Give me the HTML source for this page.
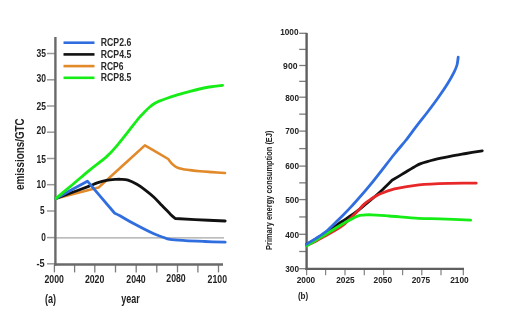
<!DOCTYPE html>
<html><head><meta charset="utf-8"><style>
html,body{margin:0;padding:0;background:#fff;width:512px;height:326px;overflow:hidden}
svg{display:block;font-family:"Liberation Sans", sans-serif;filter:blur(0.3px)}
</style></head><body>
<svg width="512" height="326" viewBox="0 0 512 326">
<rect width="512" height="326" fill="#fff"/>
<line x1="55" y1="237.9" x2="224" y2="237.9" stroke="#a6a6a6" stroke-width="1.4"/>
<line x1="47" y1="53.5" x2="55" y2="53.5" stroke="#9a9a9a" stroke-width="1.5"/>
<text x="46.1" y="57.3" font-size="11.6" font-weight="bold" fill="#222" textLength="9.5" lengthAdjust="spacingAndGlyphs" text-anchor="end" >35</text>
<line x1="47" y1="79.8" x2="55" y2="79.8" stroke="#9a9a9a" stroke-width="1.5"/>
<text x="46.1" y="81.6" font-size="11.6" font-weight="bold" fill="#222" textLength="9.5" lengthAdjust="spacingAndGlyphs" text-anchor="end" >30</text>
<line x1="47" y1="106" x2="55" y2="106" stroke="#9a9a9a" stroke-width="1.5"/>
<text x="46.1" y="110.4" font-size="11.6" font-weight="bold" fill="#222" textLength="9.5" lengthAdjust="spacingAndGlyphs" text-anchor="end" >25</text>
<line x1="47" y1="132.2" x2="55" y2="132.2" stroke="#9a9a9a" stroke-width="1.5"/>
<text x="46.1" y="134.3" font-size="11.6" font-weight="bold" fill="#222" textLength="9.5" lengthAdjust="spacingAndGlyphs" text-anchor="end" >20</text>
<line x1="47" y1="158.5" x2="55" y2="158.5" stroke="#9a9a9a" stroke-width="1.5"/>
<text x="46.1" y="163.0" font-size="11.6" font-weight="bold" fill="#222" textLength="9.5" lengthAdjust="spacingAndGlyphs" text-anchor="end" >15</text>
<line x1="47" y1="184.7" x2="55" y2="184.7" stroke="#9a9a9a" stroke-width="1.5"/>
<text x="46.1" y="188.3" font-size="11.6" font-weight="bold" fill="#222" textLength="9.5" lengthAdjust="spacingAndGlyphs" text-anchor="end" >10</text>
<line x1="47" y1="211" x2="55" y2="211" stroke="#9a9a9a" stroke-width="1.5"/>
<text x="44.6" y="214.4" font-size="11.6" font-weight="bold" fill="#222" textLength="4.6" lengthAdjust="spacingAndGlyphs" text-anchor="end" >5</text>
<line x1="47" y1="237.6" x2="55" y2="237.6" stroke="#9a9a9a" stroke-width="1.5"/>
<text x="45.8" y="241.4" font-size="11.6" font-weight="bold" fill="#222" textLength="4.6" lengthAdjust="spacingAndGlyphs" text-anchor="end" >0</text>
<line x1="47" y1="263.8" x2="55" y2="263.8" stroke="#9a9a9a" stroke-width="1.5"/>
<text x="44.6" y="266.6" font-size="11.6" font-weight="bold" fill="#222" textLength="8.2" lengthAdjust="spacingAndGlyphs" text-anchor="end" >-5</text>
<line x1="54.4" y1="265" x2="54.4" y2="272.4" stroke="#7a7a7a" stroke-width="1.3"/>
<line x1="74.6" y1="265" x2="74.6" y2="272.4" stroke="#7a7a7a" stroke-width="1.3"/>
<line x1="94.8" y1="265" x2="94.8" y2="272.4" stroke="#7a7a7a" stroke-width="1.3"/>
<line x1="115.5" y1="265" x2="115.5" y2="272.4" stroke="#7a7a7a" stroke-width="1.3"/>
<line x1="136.2" y1="265" x2="136.2" y2="272.4" stroke="#7a7a7a" stroke-width="1.3"/>
<line x1="156.8" y1="265" x2="156.8" y2="272.4" stroke="#7a7a7a" stroke-width="1.3"/>
<line x1="177.5" y1="265" x2="177.5" y2="272.4" stroke="#7a7a7a" stroke-width="1.3"/>
<line x1="197.9" y1="265" x2="197.9" y2="272.4" stroke="#7a7a7a" stroke-width="1.3"/>
<line x1="218.5" y1="265" x2="218.5" y2="272.4" stroke="#7a7a7a" stroke-width="1.3"/>
<text x="54.2" y="282.6" font-size="11.0" font-weight="bold" fill="#222" textLength="19.4" lengthAdjust="spacingAndGlyphs" text-anchor="middle" >2000</text>
<text x="94.6" y="282.6" font-size="11.0" font-weight="bold" fill="#222" textLength="19.4" lengthAdjust="spacingAndGlyphs" text-anchor="middle" >2020</text>
<text x="136.0" y="282.6" font-size="11.0" font-weight="bold" fill="#222" textLength="19.4" lengthAdjust="spacingAndGlyphs" text-anchor="middle" >2040</text>
<text x="176.0" y="282.3" font-size="11.0" font-weight="bold" fill="#222" textLength="19.4" lengthAdjust="spacingAndGlyphs" text-anchor="middle" >2080</text>
<text x="217.3" y="282.6" font-size="11.0" font-weight="bold" fill="#222" textLength="19.4" lengthAdjust="spacingAndGlyphs" text-anchor="middle" >2100</text>
<line x1="55.4" y1="37" x2="55.4" y2="265.8" stroke="#6a6a6a" stroke-width="2.4"/>
<line x1="54.2" y1="264.5" x2="223" y2="264.5" stroke="#6a6a6a" stroke-width="2.4"/>
<line x1="63.5" y1="42.7" x2="94.5" y2="42.7" stroke="#306ee0" stroke-width="2.6"/>
<text x="100.8" y="46.3" font-size="11.0" font-weight="bold" fill="#2a2a2a" textLength="30.5" lengthAdjust="spacingAndGlyphs" text-anchor="start" >RCP2.6</text>
<line x1="63.5" y1="54.4" x2="94.5" y2="54.4" stroke="#111" stroke-width="2.6"/>
<text x="100.8" y="58.0" font-size="11.0" font-weight="bold" fill="#2a2a2a" textLength="30.5" lengthAdjust="spacingAndGlyphs" text-anchor="start" >RCP4.5</text>
<line x1="63.5" y1="66.1" x2="94.5" y2="66.1" stroke="#e2892a" stroke-width="2.6"/>
<text x="100.8" y="69.7" font-size="11.0" font-weight="bold" fill="#2a2a2a" textLength="22.7" lengthAdjust="spacingAndGlyphs" text-anchor="start" >RCP6</text>
<line x1="63.5" y1="77.8" x2="94.5" y2="77.8" stroke="#16ec16" stroke-width="2.6"/>
<text x="100.8" y="81.4" font-size="11.0" font-weight="bold" fill="#2a2a2a" textLength="30.5" lengthAdjust="spacingAndGlyphs" text-anchor="start" >RCP8.5</text>
<text x="45" y="302.6" font-size="12.0" font-weight="bold" fill="#222" textLength="11" lengthAdjust="spacingAndGlyphs" text-anchor="start" >(a)</text>
<text x="121.3" y="303.3" font-size="12.0" font-weight="bold" fill="#222" textLength="18.5" lengthAdjust="spacingAndGlyphs" text-anchor="start" >year</text>
<text x="0" y="0" font-size="12.0" font-weight="bold" fill="#222" textLength="71.7" lengthAdjust="spacingAndGlyphs" text-anchor="start" transform="translate(23.5,190) rotate(-90)">emissions/GTC</text>
<path d="M56.00,198.40 C63.08,196.60 91.42,189.40 98.50,187.60 C106.23,180.57 137.17,152.43 144.90,145.40 C148.78,147.67 164.32,156.73 168.20,159.00 C168.82,159.77 170.47,162.20 171.90,163.60 C173.33,165.00 174.95,166.47 176.80,167.40 C178.65,168.33 180.97,168.77 183.00,169.20 C185.03,169.63 186.17,169.67 189.00,170.00 C191.83,170.33 196.17,170.85 200.00,171.20 C203.83,171.55 207.83,171.80 212.00,172.10 C216.17,172.40 222.83,172.85 225.00,173.00" fill="none" stroke="#e2892a" stroke-width="2.6" stroke-linejoin="round" stroke-linecap="round"/>
<path d="M56.00,198.40 C58.67,197.42 66.67,194.47 72.00,192.50 C77.33,190.53 83.80,188.20 88.00,186.60 C92.20,185.00 94.13,183.93 97.20,182.90 C100.27,181.87 103.33,180.98 106.40,180.40 C109.47,179.82 113.17,179.58 115.60,179.40 C118.03,179.22 118.93,179.17 121.00,179.30 C123.07,179.43 125.35,179.37 128.00,180.20 C130.65,181.03 134.07,182.70 136.90,184.30 C139.73,185.90 142.20,187.68 145.00,189.80 C147.80,191.92 150.87,194.38 153.70,197.00 C156.53,199.62 159.18,202.60 162.00,205.50 C164.82,208.40 168.38,212.23 170.60,214.40 C172.82,216.57 174.52,217.82 175.30,218.50 C178.58,218.68 186.68,219.18 195.00,219.60 C203.32,220.02 220.17,220.77 225.20,221.00" fill="none" stroke="#111" stroke-width="2.8" stroke-linejoin="round" stroke-linecap="round"/>
<path d="M56.00,198.40 C61.23,195.53 82.17,184.07 87.40,181.20 C91.92,186.50 109.98,207.70 114.50,213.00 C115.42,213.47 116.82,214.03 120.00,215.80 C123.18,217.57 128.05,220.63 133.60,223.60 C139.15,226.57 148.40,231.33 153.30,233.60 C158.20,235.87 160.22,236.23 163.00,237.20 C165.78,238.17 166.28,238.83 170.00,239.40 C173.72,239.97 179.47,240.25 185.30,240.60 C191.13,240.95 198.35,241.23 205.00,241.50 C211.65,241.77 221.83,242.08 225.20,242.20" fill="none" stroke="#306ee0" stroke-width="2.8" stroke-linejoin="round" stroke-linecap="round"/>
<path d="M56.00,198.40 C58.83,196.03 67.33,188.97 73.00,184.20 C78.67,179.43 84.35,174.43 90.00,169.80 C95.65,165.17 102.27,160.60 106.90,156.40 C111.53,152.20 114.28,148.68 117.80,144.60 C121.32,140.52 124.47,136.35 128.00,131.90 C131.53,127.45 136.17,121.28 139.00,117.90 C141.83,114.52 143.17,113.45 145.00,111.60 C146.83,109.75 148.42,108.15 150.00,106.80 C151.58,105.45 152.97,104.45 154.50,103.50 C156.03,102.55 157.12,101.98 159.20,101.10 C161.28,100.22 164.37,99.12 167.00,98.20 C169.63,97.28 171.17,96.75 175.00,95.60 C178.83,94.45 184.28,92.73 190.00,91.30 C195.72,89.87 203.87,88.00 209.30,87.00 C214.73,86.00 220.38,85.58 222.60,85.30" fill="none" stroke="#16ec16" stroke-width="2.8" stroke-linejoin="round" stroke-linecap="round"/>
<line x1="299.2" y1="268.7" x2="306.5" y2="268.7" stroke="#7c7c7c" stroke-width="1.3"/>
<text x="299.0" y="272.0" font-size="9.2" font-weight="bold" fill="#222" textLength="13.7" lengthAdjust="spacingAndGlyphs" text-anchor="end" >300</text>
<line x1="299.2" y1="234.3" x2="306.5" y2="234.3" stroke="#7c7c7c" stroke-width="1.3"/>
<text x="299.0" y="237.6" font-size="9.2" font-weight="bold" fill="#222" textLength="13.7" lengthAdjust="spacingAndGlyphs" text-anchor="end" >400</text>
<line x1="299.2" y1="199.6" x2="306.5" y2="199.6" stroke="#7c7c7c" stroke-width="1.3"/>
<text x="299.0" y="202.9" font-size="9.2" font-weight="bold" fill="#222" textLength="13.7" lengthAdjust="spacingAndGlyphs" text-anchor="end" >500</text>
<line x1="299.2" y1="166.1" x2="306.5" y2="166.1" stroke="#7c7c7c" stroke-width="1.3"/>
<text x="299.0" y="169.4" font-size="9.2" font-weight="bold" fill="#222" textLength="13.7" lengthAdjust="spacingAndGlyphs" text-anchor="end" >600</text>
<line x1="299.2" y1="131.1" x2="306.5" y2="131.1" stroke="#7c7c7c" stroke-width="1.3"/>
<text x="299.0" y="134.4" font-size="9.2" font-weight="bold" fill="#222" textLength="13.7" lengthAdjust="spacingAndGlyphs" text-anchor="end" >700</text>
<line x1="299.2" y1="97.2" x2="306.5" y2="97.2" stroke="#7c7c7c" stroke-width="1.3"/>
<text x="299.0" y="100.5" font-size="9.2" font-weight="bold" fill="#222" textLength="13.7" lengthAdjust="spacingAndGlyphs" text-anchor="end" >800</text>
<line x1="299.2" y1="65.5" x2="306.5" y2="65.5" stroke="#7c7c7c" stroke-width="1.3"/>
<text x="297.5" y="68.8" font-size="9.2" font-weight="bold" fill="#222" textLength="14.4" lengthAdjust="spacingAndGlyphs" text-anchor="end" >900</text>
<line x1="299.2" y1="33.3" x2="306.5" y2="33.3" stroke="#7c7c7c" stroke-width="1.3"/>
<text x="298.5" y="35.3" font-size="9.2" font-weight="bold" fill="#222" textLength="18.3" lengthAdjust="spacingAndGlyphs" text-anchor="end" >1000</text>
<line x1="299.2" y1="251.5" x2="306.5" y2="251.5" stroke="#7c7c7c" stroke-width="1.3"/>
<line x1="299.2" y1="216.95" x2="306.5" y2="216.95" stroke="#7c7c7c" stroke-width="1.3"/>
<line x1="299.2" y1="182.85" x2="306.5" y2="182.85" stroke="#7c7c7c" stroke-width="1.3"/>
<line x1="299.2" y1="148.6" x2="306.5" y2="148.6" stroke="#7c7c7c" stroke-width="1.3"/>
<line x1="299.2" y1="114.15" x2="306.5" y2="114.15" stroke="#7c7c7c" stroke-width="1.3"/>
<line x1="299.2" y1="81.35" x2="306.5" y2="81.35" stroke="#7c7c7c" stroke-width="1.3"/>
<line x1="299.2" y1="49.4" x2="306.5" y2="49.4" stroke="#7c7c7c" stroke-width="1.3"/>
<line x1="306.6" y1="269" x2="306.6" y2="275.2" stroke="#858585" stroke-width="1.25"/>
<line x1="325.6" y1="269" x2="325.6" y2="275.2" stroke="#858585" stroke-width="1.25"/>
<line x1="345.0" y1="269" x2="345.0" y2="275.2" stroke="#858585" stroke-width="1.25"/>
<line x1="364.3" y1="269" x2="364.3" y2="275.2" stroke="#858585" stroke-width="1.25"/>
<line x1="383.6" y1="269" x2="383.6" y2="275.2" stroke="#858585" stroke-width="1.25"/>
<line x1="402.6" y1="269" x2="402.6" y2="275.2" stroke="#858585" stroke-width="1.25"/>
<line x1="421.8" y1="269" x2="421.8" y2="275.2" stroke="#858585" stroke-width="1.25"/>
<line x1="441.0" y1="269" x2="441.0" y2="275.2" stroke="#858585" stroke-width="1.25"/>
<line x1="463.3" y1="269" x2="463.3" y2="275.2" stroke="#858585" stroke-width="1.25"/>
<text x="306" y="282.8" font-size="9.0" font-weight="bold" fill="#222" textLength="18.5" lengthAdjust="spacingAndGlyphs" text-anchor="middle" >2000</text>
<text x="345.5" y="282.8" font-size="9.0" font-weight="bold" fill="#222" textLength="18.5" lengthAdjust="spacingAndGlyphs" text-anchor="middle" >2025</text>
<text x="382.8" y="282.8" font-size="9.0" font-weight="bold" fill="#222" textLength="18.5" lengthAdjust="spacingAndGlyphs" text-anchor="middle" >2050</text>
<text x="420.9" y="282.8" font-size="9.0" font-weight="bold" fill="#222" textLength="18.5" lengthAdjust="spacingAndGlyphs" text-anchor="middle" >2075</text>
<text x="459.5" y="282.8" font-size="9.0" font-weight="bold" fill="#222" textLength="18.5" lengthAdjust="spacingAndGlyphs" text-anchor="middle" >2100</text>
<line x1="306.6" y1="32.9" x2="306.6" y2="270" stroke="#5f5f5f" stroke-width="2.4"/>
<line x1="305.5" y1="268.9" x2="464" y2="268.9" stroke="#5f5f5f" stroke-width="2.4"/>
<text x="297.9" y="298.6" font-size="9.5" font-weight="bold" fill="#222" textLength="10.4" lengthAdjust="spacingAndGlyphs" text-anchor="start" >(b)</text>
<text x="0" y="0" font-size="9.5" font-weight="bold" fill="#222" textLength="119.5" lengthAdjust="spacingAndGlyphs" text-anchor="start" transform="translate(272.2,250) rotate(-90)">Primary energy consumption (EJ)</text>
<path d="M306.60,244.30 C308.83,243.00 316.10,238.97 320.00,236.50 C323.90,234.03 326.33,232.00 330.00,229.50 C333.67,227.00 337.87,224.25 342.00,221.50 C346.13,218.75 351.05,215.72 354.80,213.00 C358.55,210.28 361.05,208.03 364.50,205.20 C367.95,202.37 372.42,198.67 375.50,196.00 C378.58,193.33 380.25,191.82 383.00,189.20 C385.75,186.58 390.50,181.78 392.00,180.30 C393.65,179.32 398.27,176.57 401.90,174.40 C405.53,172.23 410.67,169.10 413.80,167.30 C416.93,165.50 417.25,164.88 420.70,163.60 C424.15,162.32 429.62,160.82 434.50,159.60 C439.38,158.38 444.75,157.32 450.00,156.30 C455.25,155.28 460.62,154.42 466.00,153.50 C471.38,152.58 479.58,151.25 482.30,150.80" fill="none" stroke="#111" stroke-width="2.8" stroke-linejoin="round" stroke-linecap="round"/>
<path d="M306.60,245.70 C309.17,244.37 316.20,240.92 322.00,237.70 C327.80,234.48 335.93,230.35 341.40,226.40 C346.87,222.45 350.95,217.75 354.80,214.00 C358.65,210.25 361.73,206.43 364.50,203.90 C367.27,201.37 368.85,200.45 371.40,198.80 C373.95,197.15 375.95,195.65 379.80,194.00 C383.65,192.35 387.97,190.43 394.50,188.90 C401.03,187.37 409.75,185.73 419.00,184.80 C428.25,183.87 440.47,183.57 450.00,183.30 C459.53,183.03 471.83,183.22 476.20,183.20" fill="none" stroke="#e82828" stroke-width="2.8" stroke-linejoin="round" stroke-linecap="round"/>
<path d="M306.80,245.80 C310.27,243.70 322.40,236.37 327.60,233.20 C332.80,230.03 334.55,228.87 338.00,226.80 C341.45,224.73 345.03,222.58 348.30,220.80 C351.57,219.02 354.98,217.05 357.60,216.10 C360.22,215.15 361.70,215.32 364.00,215.10 C366.30,214.88 367.18,214.65 371.40,214.80 C375.62,214.95 381.43,215.42 389.30,216.00 C397.17,216.58 410.15,217.82 418.60,218.30 C427.05,218.78 431.32,218.58 440.00,218.90 C448.68,219.22 465.58,219.98 470.70,220.20" fill="none" stroke="#16ec16" stroke-width="2.8" stroke-linejoin="round" stroke-linecap="round"/>
<path d="M306.40,244.20 C308.00,243.23 312.47,240.73 316.00,238.40 C319.53,236.07 323.60,233.57 327.60,230.20 C331.60,226.83 335.87,222.33 340.00,218.20 C344.13,214.07 347.40,210.90 352.40,205.40 C357.40,199.90 362.98,193.77 370.00,185.20 C377.02,176.63 388.55,161.45 394.50,154.00 C400.45,146.55 402.03,145.15 405.70,140.50 C409.37,135.85 412.92,130.77 416.50,126.10 C420.08,121.43 423.57,117.27 427.20,112.50 C430.83,107.73 434.83,102.42 438.30,97.50 C441.77,92.58 445.35,87.28 448.00,83.00 C450.65,78.72 452.70,74.80 454.20,71.80 C455.70,68.80 456.33,67.43 457.00,65.00 C457.67,62.57 458.00,58.50 458.20,57.20" fill="none" stroke="#306ee0" stroke-width="2.8" stroke-linejoin="round" stroke-linecap="round"/>
</svg>
</body></html>
